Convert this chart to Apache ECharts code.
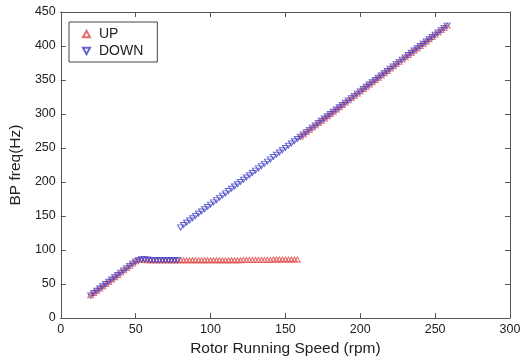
<!DOCTYPE html>
<html>
<head>
<meta charset="utf-8">
<script src="https://cdn.jsdelivr.net/npm/echarts@6/dist/echarts.min.js"></script>
<style>
  html, body { margin: 0; padding: 0; background: #fff; }
  #container { width: 527px; height: 362px; }
</style>
</head>
<body>
<div id="container"></div>
<script>
// speed-up run (rpm -> Hz)
const upSpeed = [20, 22, 24, 26, 28, 30, 32, 34, 36, 38, 40, 42, 44, 46, 48, 50, 52, 54, 56, 58,
  60, 62, 64, 66, 68, 70, 72, 74, 76, 78, 80, 82, 84, 86, 88, 90, 92, 94, 96, 98,
  100, 102, 104, 106, 108, 110, 112, 114, 116, 118, 120, 122, 124, 126, 128, 130, 132, 134, 136, 138,
  140, 142, 144, 146, 148, 150, 152, 154, 156, 158,
  160, 162, 164, 166, 168, 170, 172, 174, 176, 178, 180, 182, 184, 186, 188, 190, 192, 194, 196, 198,
  200, 202, 204, 206, 208, 210, 212, 214, 216, 218, 220, 222, 224, 226, 228, 230, 232, 234, 236, 238,
  240, 242, 244, 246, 248, 250, 252, 254, 256, 258];
const upFreq = [33.3, 36.7, 40, 43.3, 46.7, 50, 53.3, 56.7, 60, 63.3, 66.7, 70, 73.3, 76.7, 80, 83.3, 85.5, 86, 85.5, 85,
  85, 85, 85, 85, 85, 85, 85, 85, 85, 85, 85, 85, 85, 85, 85, 85, 85, 85, 85, 85,
  85, 85, 85, 85, 85, 85, 85, 85, 85, 85, 85, 85.5, 85.5, 85.5, 85.5, 85.5, 85.5, 85.5, 85.5, 85.5,
  85.5, 86, 86, 86, 86, 86, 86, 86, 86, 86,
  266.7, 270, 273.3, 276.7, 280, 283.3, 286.7, 290, 293.3, 296.7, 300, 303.3, 306.7, 310, 313.3, 316.7, 320, 323.3, 326.7, 330,
  333.3, 336.7, 340, 343.3, 346.7, 350, 353.3, 356.7, 360, 363.3, 366.7, 370, 373.3, 376.7, 380, 383.3, 386.7, 390, 393.3, 396.7,
  400, 403.3, 406.7, 410, 413.3, 416.7, 420, 423.3, 426.7, 430];

// run-down (rpm -> Hz)
const downSpeed = [258, 256, 254, 252, 250, 248, 246, 244, 242, 240, 238, 236, 234, 232, 230, 228, 226, 224, 222, 220,
  218, 216, 214, 212, 210, 208, 206, 204, 202, 200, 198, 196, 194, 192, 190, 188, 186, 184, 182, 180,
  178, 176, 174, 172, 170, 168, 166, 164, 162, 160, 158, 156, 154, 152, 150, 148, 146, 144, 142, 140,
  138, 136, 134, 132, 130, 128, 126, 124, 122, 120, 118, 116, 114, 112, 110, 108, 106, 104, 102, 100,
  98, 96, 94, 92, 90, 88, 86, 84, 82, 80, 78, 76, 74, 72, 70, 68, 66, 64, 62, 60,
  58, 56, 54, 52, 50, 48, 46, 44, 42, 40, 38, 36, 34, 32, 30, 28, 26, 24, 22, 20];
const downFreq = [430, 426.7, 423.3, 420, 416.7, 413.3, 410, 406.7, 403.3, 400, 396.7, 393.3, 390, 386.7, 383.3, 380, 376.7, 373.3, 370, 366.7,
  363.3, 360, 356.7, 353.3, 350, 346.7, 343.3, 340, 336.7, 333.3, 330, 326.7, 323.3, 320, 316.7, 313.3, 310, 306.7, 303.3, 300,
  296.7, 293.3, 290, 286.7, 283.3, 280, 276.7, 273.3, 270, 266.7, 263.3, 260, 256.7, 253.3, 250, 246.7, 243.3, 240, 236.7, 233.3,
  230, 226.7, 223.3, 220, 216.7, 213.3, 210, 206.7, 203.3, 200, 196.7, 193.3, 190, 186.7, 183.3, 180, 176.7, 173.3, 170, 166.7,
  163.3, 160, 156.7, 153.3, 150, 146.7, 143.3, 140, 136.7, 133.3, 85, 85, 85, 85, 85, 85, 85, 85, 85, 85.5,
  86, 86.5, 86.5, 85.5, 83.3, 80, 76.7, 73.3, 70, 66.7, 63.3, 60, 56.7, 53.3, 50, 46.7, 43.3, 40, 36.7, 33.3];

const chart = echarts.init(document.getElementById('container'));

const axisCol = '#555';
const font = 'Liberation Sans, Arial, sans-serif';
const downTri = 'path://M0,0L10,0L5,9Z';
const upTri = 'path://M5,0L10,9L0,9Z';

const frameX = (pos, labels) => ({
  type: 'value', position: pos, min: 0, max: 300, interval: 50,
  axisLine: { show: true, onZero: false, lineStyle: { color: axisCol, width: 1 } },
  axisTick: { show: true, inside: true, length: 5, lineStyle: { color: axisCol } },
  axisLabel: { show: labels, color: '#222', fontSize: 12.5, fontFamily: font, margin: 5 },
  splitLine: { show: false }
});
const frameY = (pos, labels) => ({
  type: 'value', position: pos, min: 0, max: 450, interval: 50,
  axisLine: { show: true, onZero: false, lineStyle: { color: axisCol, width: 1 } },
  axisTick: { show: true, inside: true, length: 5, lineStyle: { color: axisCol } },
  axisLabel: { show: labels, color: '#222', fontSize: 12.5, fontFamily: font, margin: 5 },
  splitLine: { show: false }
});

const xBottom = Object.assign(frameX('bottom', true), {
  name: 'Rotor Running Speed (rpm)', nameLocation: 'middle', nameGap: 23,
  nameTextStyle: { fontSize: 15.5, fontFamily: font, color: '#222' }
});
const yLeft = Object.assign(frameY('left', true), {
  name: 'BP freq(Hz)', nameLocation: 'middle', nameGap: 31,
  nameTextStyle: { fontSize: 15.5, fontFamily: font, color: '#222' }
});

const option = {
  backgroundColor: '#fff',
  animation: false,
  grid: { left: 57, right: 17, top: 12, bottom: 37 },
  xAxis: [xBottom, frameX('top', false)],
  yAxis: [yLeft, frameY('right', false)],
  legend: {
    orient: 'vertical', left: 69, top: 22,
    padding: [5, 14, 4, 13], itemGap: 3, itemWidth: 7, itemHeight: 7,
    borderColor: '#444', borderWidth: 1, backgroundColor: '#fff',
    textStyle: { fontSize: 14, fontFamily: font, color: '#222', padding: [0, 0, 0, 4] },
    data: ['UP', 'DOWN']
  },
  series: [
    {
      name: 'UP', type: 'scatter', data: upSpeed.map((x, i) => [x, upFreq[i]]),
      symbol: upTri, symbolSize: [6, 5],
      itemStyle: { color: 'rgba(0,0,0,0)', borderColor: '#e04848', borderWidth: 1 }
    },
    {
      name: 'DOWN', type: 'scatter', data: downSpeed.map((x, i) => [x, downFreq[i]]),
      symbol: downTri, symbolSize: [6, 5],
      itemStyle: { color: 'rgba(0,0,0,0)', borderColor: '#4040c8', borderWidth: 1 }
    }
  ]
};

chart.setOption(option);
</script>
</body>
</html>
